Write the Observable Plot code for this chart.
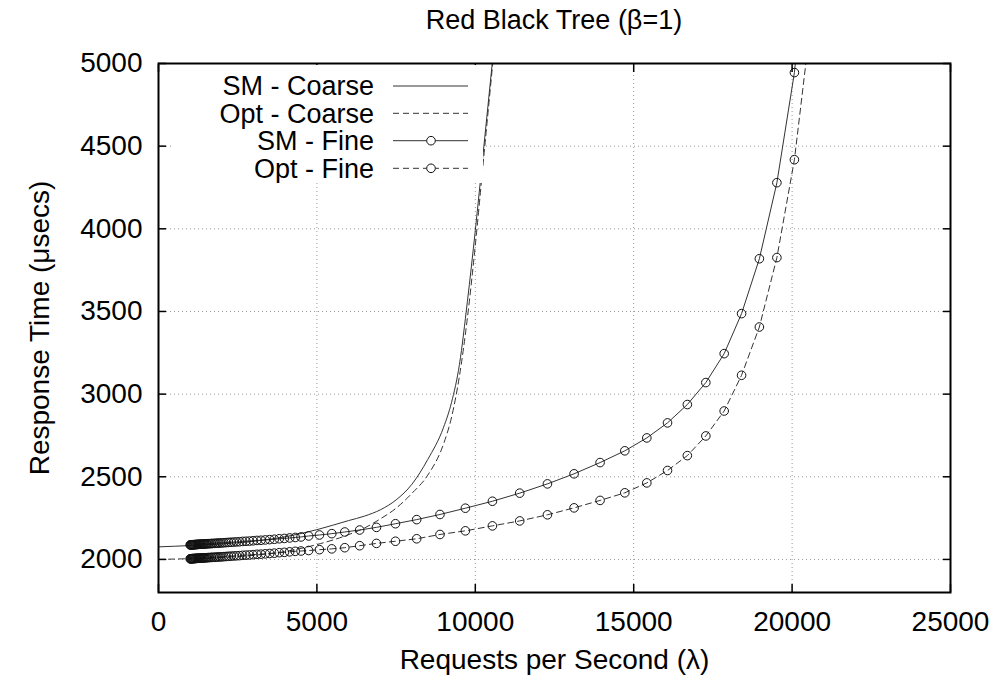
<!DOCTYPE html>
<html>
<head>
<meta charset="utf-8">
<script src="https://cdn.jsdelivr.net/npm/d3@7"></script>
<script src="https://cdn.jsdelivr.net/npm/@observablehq/plot@0.6"></script>
<style>
  html, body { margin: 0; padding: 0; background: #fff; }
  #wrap { position: relative; width: 997px; height: 677px; font-family: "Liberation Sans", Arial, sans-serif; color: #000; }
  #title { position: absolute; left: 158px; width: 792px; top: 0; height: 45px; line-height: 40px; text-align: center; font-size: 27px; }
  #chart { position: absolute; left: 0; top: 45px; }
  #legend { position: absolute; left: 172px; top: 65px; }
</style>
</head>
<body>
<div id="wrap">
  <div id="title">Red Black Tree (β=1)</div>
  <div id="chart"></div>
  <svg id="legend" width="311" height="118"></svg>
</div>
<script>
// ---- data ----
const xTicks = [0, 5000, 10000, 15000, 20000, 25000];
const yTicks = [2000, 2500, 3000, 3500, 4000, 4500, 5000];

const seriesNames = ["SM - Coarse", "Opt - Coarse", "SM - Fine", "Opt - Fine"];

// coarse model curves (requests per second, response time in usecs)
const coarseX = [0, 1000, 2000, 3000, 4000, 5000, 6000, 6500, 7000, 7500, 8000, 8500, 9000, 9250, 9500, 9750, 10000, 10250, 10550];
const smCoarse = [2076, 2084, 2094, 2110, 2137, 2180, 2235, 2262, 2300, 2360, 2455, 2605, 2800, 2950, 3180, 3560, 3990, 4460, 5030];
const optCoarse = [2000, 2005, 2012, 2025, 2048, 2090, 2150, 2190, 2245, 2310, 2400, 2510, 2700, 2860, 3110, 3460, 3900, 4400, 5000];

// fine model points
const fineX = [1000, 1013, 1027, 1041, 1056, 1071, 1087, 1103, 1120, 1138,
  1157, 1177, 1198, 1220, 1243, 1267, 1292, 1318, 1345, 1374,
  1404, 1436, 1470, 1506, 1544, 1584, 1626, 1670, 1717, 1767,
  1820, 1876, 1935, 1998, 2065, 2136, 2211, 2290, 2374, 2463,
  2557, 2656, 2760, 2870, 2986, 3108, 3236, 3370, 3510, 3657,
  3811, 3972, 4140, 4316, 4500,
  4740, 5080, 5470, 5880, 6350, 6880, 7480, 8150,
  8885, 9687, 10540, 11402, 12277, 13118, 13939, 14719, 15414, 16067,
  16693, 17277, 17856, 18405, 18967, 19520, 20073, 20626];
const smFine = [2088, 2088, 2088, 2088, 2089, 2089, 2089, 2089, 2089, 2090,
  2090, 2090, 2090, 2091, 2091, 2091, 2092, 2092, 2092, 2093,
  2093, 2093, 2094, 2094, 2095, 2095, 2096, 2096, 2097, 2097,
  2098, 2099, 2099, 2100, 2101, 2102, 2103, 2104, 2105, 2106,
  2107, 2109, 2110, 2111, 2113, 2115, 2116, 2118, 2120, 2122,
  2125, 2127, 2130, 2133, 2136,
  2142, 2148, 2156, 2166, 2178, 2194, 2216, 2241,
  2272, 2310, 2352, 2401, 2457, 2518, 2586, 2657, 2735, 2826,
  2937, 3070, 3245, 3487, 3819, 4279, 4945, 6000];
const optFine = [2004, 2004, 2004, 2004, 2005, 2005, 2005, 2005, 2005, 2006,
  2006, 2006, 2006, 2007, 2007, 2007, 2008, 2008, 2008, 2009,
  2009, 2009, 2010, 2010, 2011, 2011, 2012, 2012, 2013, 2013,
  2014, 2015, 2015, 2016, 2017, 2018, 2019, 2020, 2021, 2022,
  2023, 2025, 2026, 2027, 2029, 2031, 2032, 2034, 2036, 2038,
  2041, 2043, 2046, 2049, 2051,
  2054, 2059, 2064, 2071, 2083, 2097, 2110, 2125,
  2151, 2173, 2203, 2233, 2270, 2312, 2357, 2403, 2463, 2538,
  2628, 2747, 2898, 3114, 3406, 3826, 4418, 5310];

// ---- tables ----
const coarseRows = coarseX.map((x, i) => ({x, sm: smCoarse[i], opt: optCoarse[i]}));
const fineRows = fineX.map((x, i) => ({x, sm: smFine[i], opt: optFine[i]}));

const LINE = "#333";
const DASH = "6,4";
const FS = 28;
const LFS = 27;

const chart = Plot.plot({
  width: 997,
  height: 632,
  marginLeft: 158,
  marginRight: 47,
  marginTop: 18,
  marginBottom: 85,
  style: {fontFamily: '"Liberation Sans", Arial, sans-serif', fontSize: FS + "px", color: "#000", background: "#fff"},
  x: {domain: [0, 25000], label: null},
  y: {domain: [1800, 5000], label: null},
  marks: [
    Plot.gridX(xTicks, {stroke: "#999", strokeOpacity: 1, strokeDasharray: "1,3"}),
    Plot.gridY(yTicks, {stroke: "#999", strokeOpacity: 1, strokeDasharray: "1,3"}),
    Plot.line(coarseRows, {x: "x", y: "sm", curve: "monotone-x", stroke: LINE, strokeWidth: 1, clip: true}),
    Plot.line(coarseRows, {x: "x", y: "opt", curve: "monotone-x", stroke: LINE, strokeWidth: 1, strokeDasharray: DASH, clip: true}),
    Plot.line(fineRows, {x: "x", y: "sm", stroke: LINE, strokeWidth: 1, clip: true}),
    Plot.line(fineRows, {x: "x", y: "opt", stroke: LINE, strokeWidth: 1, strokeDasharray: DASH, clip: true}),
    Plot.dot(fineRows, {x: "x", y: "sm", r: 4.3, stroke: "#111", fill: "none", strokeWidth: 1, clip: true}),
    Plot.dot(fineRows, {x: "x", y: "opt", r: 4.3, stroke: "#111", fill: "none", strokeWidth: 1, clip: true}),
    // tick labels
    Plot.axisX(xTicks, {anchor: "bottom", tickSize: 0, tickPadding: 19, fontSize: FS, tickFormat: d => String(d), label: null}),
    Plot.axisY(yTicks, {anchor: "left", tickSize: 0, tickPadding: 16, fontSize: FS, tickFormat: d => String(d), label: null}),
    // inward ticks on all four sides
    Plot.axisX(xTicks, {anchor: "bottom", tickSize: 8, dy: -8, fill: "none", stroke: "#000", strokeWidth: 1.5, label: null}),
    Plot.axisX(xTicks, {anchor: "top", tickSize: 8, dy: 8, fill: "none", stroke: "#000", strokeWidth: 1.5, label: null}),
    Plot.axisY(yTicks, {anchor: "left", tickSize: 8, dx: 8, fill: "none", stroke: "#000", strokeWidth: 1.5, label: null}),
    Plot.axisY(yTicks, {anchor: "right", tickSize: 8, dx: -8, fill: "none", stroke: "#000", strokeWidth: 1.5, label: null}),
    Plot.frame({stroke: "#000", strokeWidth: 2}),
    // axis titles
    Plot.text(["Response Time (μsecs)"], {text: d => d, frameAnchor: "left", dx: -118, rotate: -90, textAnchor: "middle", lineAnchor: "middle", fontSize: FS, fill: "#000"}),
    Plot.text(["Requests per Second (λ)"], {text: d => d, frameAnchor: "bottom", dy: 68, textAnchor: "middle", lineAnchor: "middle", fontSize: FS, fill: "#000"})
  ]
});
document.getElementById("chart").appendChild(chart);

// ---- legend (inside plot area, white box) ----
const lg = d3.select("#legend");
lg.append("rect").attr("width", 311).attr("height", 118).attr("fill", "#fff");
const rowY = [21, 48.3, 75.7, 103.3];
const legendStyles = [
  {dash: null, marker: false},
  {dash: DASH, marker: false},
  {dash: null, marker: true},
  {dash: DASH, marker: true}
];
seriesNames.forEach((name, i) => {
  const g = lg.append("g").attr("transform", `translate(0,${rowY[i]})`);
  g.append("text").attr("x", 202).attr("y", 0).attr("dy", "0.35em")
    .attr("text-anchor", "end").attr("font-size", LFS)
    .attr("font-family", '"Liberation Sans", Arial, sans-serif').text(name);
  g.append("line").attr("x1", 221).attr("x2", 296).attr("y1", 0).attr("y2", 0)
    .attr("stroke", LINE).attr("stroke-width", 1)
    .attr("stroke-dasharray", legendStyles[i].dash);
  if (legendStyles[i].marker) {
    g.append("circle").attr("cx", 259).attr("cy", 0).attr("r", 4.3)
      .attr("fill", "#fff").attr("stroke", "#111").attr("stroke-width", 1);
  }
});
</script>
</body>
</html>
